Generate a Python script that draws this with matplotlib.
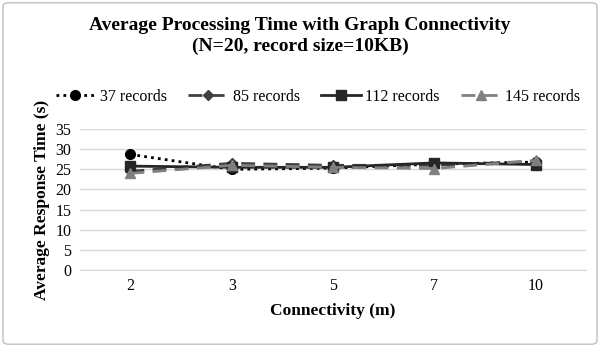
import matplotlib.pyplot as plt
from matplotlib.patches import FancyBboxPatch

plt.rcParams['font.family'] = ['Liberation Serif', 'DejaVu Serif']

connectivity = ['2', '3', '5', '7', '10']
rec37 = [28.7, 25.0, 25.3, 26.3, 26.8]
rec85 = [24.5, 26.5, 26.0, 26.0, 27.0]
rec112 = [25.8, 25.5, 25.5, 26.6, 26.2]
rec145 = [24.0, 26.0, 25.5, 25.2, 27.2]

fig = plt.figure(figsize=(6, 3.47), dpi=100)
ax = fig.add_axes([0.133, 0.222, 0.844, 0.406])

x = range(len(connectivity))
ax.plot(x, rec37, color='black', linestyle=(0, (1, 1.5)), linewidth=2,
        marker='o', markersize=7, label='37 records')
ax.plot(x, rec85, color='#404040', linestyle=(0, (5, 3)), linewidth=2,
        marker='D', markersize=5, label='85 records')
ax.plot(x, rec112, color='#262626', linestyle='-', linewidth=2,
        marker='s', markersize=7, label='112 records')
ax.plot(x, rec145, color='#808080', linestyle=(0, (5, 3)), linewidth=2,
        marker='^', markersize=7, label='145 records')

ax.set_xlim(-0.5, 4.5)
ax.set_ylim(0, 35)
ax.set_yticks(range(0, 36, 5))
ax.set_xticks(list(x))
ax.set_xticklabels(connectivity)
ax.grid(axis='y', color='#d9d9d9', linewidth=1)
ax.set_axisbelow(True)
for s in ['top', 'right', 'left']:
    ax.spines[s].set_visible(False)
ax.spines['bottom'].set_color('#d9d9d9')
ax.tick_params(length=0, labelsize=11.5, pad=6)

ax.set_xlabel('Connectivity (m)', fontsize=12.5, fontweight='bold', labelpad=6)
ax.set_ylabel('Average Response Time (s)', fontsize=12.5, fontweight='bold', labelpad=4)

fig.text(0.5, 0.95, 'Average Processing Time with Graph Connectivity\n(N=20, record size=10KB)',
         ha='center', va='top', fontsize=14, fontweight='bold', linespacing=1.25)

ax.legend(loc='upper center', bbox_to_anchor=(0.53, 0.785), bbox_transform=fig.transFigure,
          ncol=4, frameon=False, fontsize=11.5, handlelength=2.5, columnspacing=1.3,
          handletextpad=0.3)

border = FancyBboxPatch((0.005, 0.008), 0.99, 0.984, boxstyle='round,pad=0,rounding_size=0.01',
                        transform=fig.transFigure, fill=False, edgecolor='#bfbfbf', linewidth=1)
fig.patches.append(border)

fig.savefig('out.png', dpi=100)
